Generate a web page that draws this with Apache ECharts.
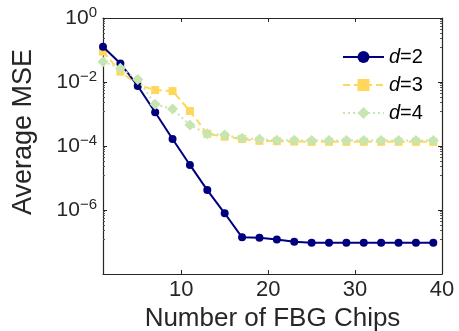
<!DOCTYPE html>
<html><head><meta charset="utf-8">
<script src="https://cdn.jsdelivr.net/npm/echarts@6/dist/echarts.min.js"></script>
<style>html,body{margin:0;padding:0;background:#fff}#c{width:459px;height:331px}</style>
</head><body><div id="c"></div>
<script>
var chips = [1,3,5,7,9,11,13,15,17,19,21,23,25,27,29,31,33,35,37,39];
var mseD2 = [0.126,0.038,0.0075,0.00113,1.66e-4,2.56e-5,4.2e-6,7.9e-7,1.4e-7,1.36e-7,1.2e-7,1.02e-7,9.5e-8,9.5e-8,9.5e-8,9.5e-8,9.5e-8,9.5e-8,9.5e-8,9.5e-8];
var mseD3 = [0.089,0.021,0.0082,0.0056,0.0052,0.00124,2.4e-4,1.95e-4,1.66e-4,1.45e-4,1.42e-4,1.38e-4,1.35e-4,1.35e-4,1.35e-4,1.35e-4,1.35e-4,1.35e-4,1.35e-4,1.35e-4];
var mseD4 = [0.043,0.027,0.012,0.0020,0.00144,4.5e-4,2.4e-4,2.2e-4,1.74e-4,1.62e-4,1.52e-4,1.5e-4,1.48e-4,1.48e-4,1.48e-4,1.48e-4,1.48e-4,1.48e-4,1.48e-4,1.48e-4];
var seriesNames = ['d=2','d=3','d=4'];
var xTicks = [10,20,30,40];
var yTickExps = [0,-2,-4,-6];

function pairs(xs, ys){ return xs.map(function(x,i){return [x, ys[i]];}); }
var FONT = 'Liberation Sans, Arial, sans-serif';
var TXT = '#262626';
var chart = echarts.init(document.getElementById('c'));
var axisLineStyle = {color:'#262626', width:1.2};
chart.setOption({
  animation:false,
  backgroundColor:'#fff',
  grid:{left:103, top:18, right:17, bottom:57, containLabel:false, outerBoundsMode:'none'},
  legend:{
    left:337, top:42, orient:'vertical', itemWidth:41, itemHeight:15, itemGap:8,
    data:seriesNames,
    formatter:function(n){ return '{i|d}{n|' + n.slice(1) + '}'; },
    textStyle:{fontFamily:FONT, fontSize:20, color:'#000',
      rich:{i:{fontStyle:'italic', fontSize:20, fontFamily:FONT, color:'#000'}, n:{fontSize:20, fontFamily:FONT, color:'#000'}}}
  },
  xAxis:[{
    type:'value', min:1, max:40, position:'bottom',
    name:'Number of FBG Chips', nameLocation:'middle', nameGap:28,
    nameTextStyle:{fontFamily:FONT, fontSize:26, color:TXT},
    axisLine:{show:true, lineStyle:axisLineStyle},
    axisTick:{show:true, inside:true, length:4, customValues:xTicks, lineStyle:{color:'#262626'}},
    axisLabel:{customValues:xTicks, fontFamily:FONT, fontSize:22, color:TXT, margin:5},
    splitLine:{show:false}
  },{
    type:'value', min:1, max:40, position:'top',
    axisLine:{show:true, lineStyle:axisLineStyle},
    axisTick:{show:true, inside:true, length:4, customValues:xTicks, lineStyle:{color:'#262626'}},
    axisLabel:{show:false}, splitLine:{show:false}
  }],
  yAxis:[{
    type:'log', logBase:10, min:1e-8, max:1, interval:2, position:'left',
    axisLine:{show:true, lineStyle:axisLineStyle},
    axisTick:{show:true, inside:true, length:4, lineStyle:{color:'#262626'}},
    minorTick:{show:true, splitNumber:9, length:2, lineStyle:{color:'#555'}},
    axisLabel:{
      fontFamily:FONT, fontSize:21, color:TXT, margin:6,
      formatter:function(v){
        var e = Math.round(Math.log10(v));
        if (yTickExps.indexOf(e) < 0) return '';
        var s = e === 0 ? '0' : '\u2212' + (-e);
        return '{b|10}{s|' + s + '}';
      },
      rich:{b:{fontFamily:FONT, fontSize:21, color:TXT}, s:{fontFamily:FONT, fontSize:15, color:TXT, padding:[0,0,11,0]}}
    },
    splitLine:{show:false}
  },{
    type:'log', logBase:10, min:1e-8, max:1, interval:2, position:'right',
    axisLine:{show:true, lineStyle:axisLineStyle},
    axisTick:{show:true, inside:true, length:4, lineStyle:{color:'#262626'}},
    minorTick:{show:true, splitNumber:9, length:2, lineStyle:{color:'#555'}},
    axisLabel:{show:false}, splitLine:{show:false}
  }],
  graphic:[{
    type:'text', x:24, y:132, rotation:Math.PI/2,
    style:{text:'Average MSE', fontFamily:FONT, fontSize:27, fill:TXT, align:'center', verticalAlign:'middle'}
  }],
  series:[{
    name:seriesNames[0], type:'line', data:pairs(chips, mseD2), z:4,
    symbol:'circle', symbolSize:8,
    lineStyle:{color:'#00007F', width:2},
    itemStyle:{color:'#00007F'}
  },{
    name:seriesNames[1], type:'line', data:pairs(chips, mseD3), z:3,
    symbol:'rect', symbolSize:8,
    lineStyle:{color:'#FFD75A', width:2, type:[7,4]},
    itemStyle:{color:'#FFD75A'}
  },{
    name:seriesNames[2], type:'line', data:pairs(chips, mseD4), z:5,
    symbol:'diamond', symbolSize:11,
    lineStyle:{color:'#C6E5B1', width:2, type:[2,3]},
    itemStyle:{color:'#C6E5B1'}
  }]
});
</script></body></html>
